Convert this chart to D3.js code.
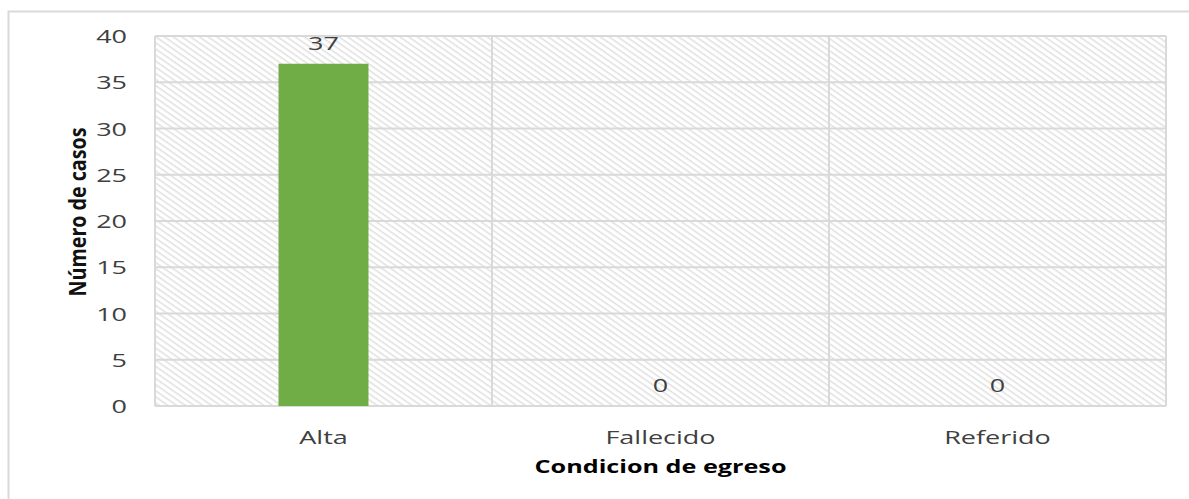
<!DOCTYPE html>
<html>
<head>
<meta charset="utf-8">
<script src="https://cdn.jsdelivr.net/npm/d3@7"></script>
<style>
  html, body { margin: 0; padding: 0; background: #fff; }
  svg { display: block; }
  text { font-family: "Open Sans", "DejaVu Sans", sans-serif; }
</style>
</head>
<body>
<svg id="chart" width="1189" height="499"></svg>
<script>
// Egress condition counts
const categories = ["Alta", "Fallecido", "Referido"];
const cases = [37, 0, 0];
const yTicks = [0, 5, 10, 15, 20, 25, 30, 35, 40];
const xTitle = "Condicion de egreso";
const yTitle = "Número de casos";

const W = 1189, H = 499;
const plot = { left: 155, top: 36, right: 1166, bottom: 406 };
const FS = 18, SX = 1.5;   // label font size and horizontal stretch

const svg = d3.select("#chart");

// hatched plot background
const defs = svg.append("defs");
const pat = defs.append("pattern")
  .attr("id", "hatch")
  .attr("patternUnits", "userSpaceOnUse")
  .attr("width", 5).attr("height", 5)
  .attr("patternTransform", "rotate(35)");
pat.append("rect").attr("width", 5).attr("height", 5).attr("fill", "#fff");
pat.append("rect").attr("x", 0).attr("y", 0).attr("width", 5).attr("height", 1.5).attr("fill", "#e0e0e0");

// outer chart frame
svg.append("rect")
  .attr("x", 8.5).attr("y", 11.5)
  .attr("width", W).attr("height", H)
  .attr("fill", "none").attr("stroke", "#d9d9d9").attr("stroke-width", 2);

const x = d3.scaleBand()
  .domain(categories)
  .range([plot.left, plot.right])
  .paddingInner(0).paddingOuter(0);

const y = d3.scaleLinear()
  .domain([0, 40])
  .range([plot.bottom, plot.top]);

svg.append("rect")
  .attr("x", plot.left).attr("y", plot.top)
  .attr("width", plot.right - plot.left).attr("height", plot.bottom - plot.top)
  .attr("fill", "url(#hatch)");

// horizontal gridlines
svg.append("g")
  .selectAll("line")
  .data(yTicks)
  .join("line")
  .attr("x1", plot.left).attr("x2", plot.right)
  .attr("y1", d => y(d)).attr("y2", d => y(d))
  .attr("stroke", "#d9d9d9").attr("stroke-width", 2);

// vertical category separators
const bounds = [plot.left, ...categories.map(c => x(c) + x.bandwidth())];
svg.append("g")
  .selectAll("line")
  .data(bounds)
  .join("line")
  .attr("x1", d => d).attr("x2", d => d)
  .attr("y1", plot.top).attr("y2", plot.bottom)
  .attr("stroke", "#d9d9d9").attr("stroke-width", 2);

// bars
const barW = x.bandwidth() * 0.267;
svg.append("g")
  .selectAll("rect")
  .data(cases)
  .join("rect")
  .attr("x", (d, i) => x(categories[i]) + x.bandwidth() / 2 - barW / 2)
  .attr("y", d => y(d))
  .attr("width", barW)
  .attr("height", d => y(0) - y(d))
  .attr("fill", "#70ad47");

// value labels
svg.append("g")
  .selectAll("text")
  .data(cases)
  .join("text")
  .attr("transform", (d, i) => `translate(${x(categories[i]) + x.bandwidth() / 2},${y(d) - 21}) scale(${SX},1)`)
  .attr("text-anchor", "middle")
  .attr("dominant-baseline", "central")
  .attr("font-size", FS)
  .attr("fill", "#404040")
  .text(d => d);

// y tick labels
svg.append("g")
  .selectAll("text")
  .data(yTicks)
  .join("text")
  .attr("transform", d => `translate(127,${y(d)}) scale(${SX},1)`)
  .attr("text-anchor", "end")
  .attr("dominant-baseline", "central")
  .attr("font-size", FS)
  .attr("fill", "#404040")
  .text(d => d);

// category labels
svg.append("g")
  .selectAll("text")
  .data(categories)
  .join("text")
  .attr("transform", d => `translate(${x(d) + x.bandwidth() / 2},437) scale(${SX},1)`)
  .attr("text-anchor", "middle")
  .attr("dominant-baseline", "central")
  .attr("font-size", FS)
  .attr("fill", "#404040")
  .text(d => d);

// axis titles
svg.append("text")
  .attr("transform", `translate(${(plot.left + plot.right) / 2},466) scale(1.4,1)`)
  .attr("text-anchor", "middle")
  .attr("dominant-baseline", "central")
  .attr("font-size", FS)
  .attr("font-weight", "bold")
  .attr("fill", "#000")
  .text(xTitle);

// condensed vertical title, squeezed to a 169px run
const yt = svg.append("text")
  .attr("text-anchor", "middle")
  .attr("dominant-baseline", "central")
  .attr("font-family", "'Liberation Sans', sans-serif")
  .attr("font-size", 23)
  .attr("font-weight", "bold")
  .attr("fill", "#111")
  .text(yTitle);
const len = yt.node().getComputedTextLength();
yt.attr("transform", `translate(77,212) rotate(-90) scale(${169 / len},1)`);
</script>
</body>
</html>
